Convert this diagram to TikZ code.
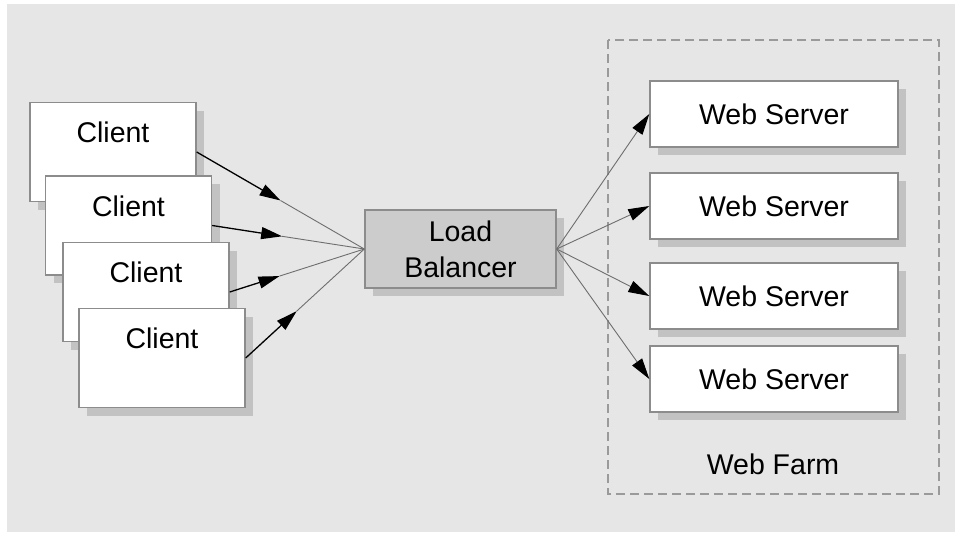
\documentclass[tikz,border=0pt]{standalone}
\usepackage{fontspec}
\setmainfont{Liberation Sans}
\usetikzlibrary{arrows.meta,shadows}

\definecolor{bggray}{HTML}{E6E6E6}
\definecolor{edgegray}{HTML}{8C8C8C}
\definecolor{shadegray}{HTML}{C2C2C2}
\definecolor{lbfill}{HTML}{CCCCCC}
\definecolor{linegray}{HTML}{6E6E6E}
\definecolor{farmgray}{HTML}{9A9A9A}

\tikzset{
  box/.style={draw=edgegray, line width=1.4pt, fill=white, inner sep=0pt,
    drop shadow={shadow xshift=8pt, shadow yshift=-8pt, fill=shadegray, opacity=1}},
  clientbox/.style={box, minimum width=166pt, minimum height=99pt},
  serverbox/.style={box, minimum width=248pt, minimum height=66pt},
  lbbox/.style={box, fill=lbfill, minimum width=191pt, minimum height=78pt, align=center},
  txt/.style={font=\fontsize{28.5}{36}\selectfont},
  head/.style={-{Triangle[length=21pt,width=12pt,color=black]}},
  feed/.style={head, draw=black, line width=1.3pt},
  tail/.style={draw=linegray, line width=0.9pt},
  fan/.style={head, draw=linegray, line width=0.9pt},
}

\begin{document}
\begin{tikzpicture}[x=1pt, y=-1pt]
  \useasboundingbox (0,0) rectangle (957,533);
  \fill[bggray] (7,4) rectangle (955,532);

  % web farm enclosure
  \draw[farmgray, line width=1.3pt, dash pattern=on 9pt off 5pt] (608,40) rectangle (939,494);
  \node[txt] (farm) at (773,464) {Web Farm};

  % stacked clients
  \node[clientbox, label={[txt, anchor=center, yshift=-31pt]north:Client}] (c1) at (113,152) {};
  \node[clientbox, label={[txt, anchor=center, yshift=-31pt]north:Client}] (c2) at (128.5,225.5) {};
  \node[clientbox, label={[txt, anchor=center, yshift=-31pt]north:Client}] (c3) at (146,292) {};
  \node[clientbox, label={[txt, anchor=center, yshift=-31pt]north:Client}] (c4) at (162,358) {};

  % load balancer
  \node[lbbox, txt] (lb) at (460.5,249) {Load\\Balancer};

  % web servers
  \node[serverbox, txt] (w1) at (774,114) {Web Server};
  \node[serverbox, txt] (w2) at (774,206) {Web Server};
  \node[serverbox, txt] (w3) at (774,296) {Web Server};
  \node[serverbox, txt] (w4) at (774,379) {Web Server};

  % client requests into the balancer
  \path (c1.east) -- coordinate[pos=0.50] (m1) (lb.west);
  \path (c2.east) -- coordinate[pos=0.46] (m2) (lb.west);
  \path (c3.east) -- coordinate[pos=0.37] (m3) (lb.west);
  \path (c4.east) -- coordinate[pos=0.43] (m4) (lb.west);
  \foreach \i in {1,...,4} {
    \draw[tail] (m\i) -- (lb.west);
    \draw[feed] (c\i.east) -- (m\i);
  }

  % balancer fans out to the servers
  \foreach \i in {1,...,4} {
    \draw[fan] (lb.east) -- (w\i.west);
  }
\end{tikzpicture}
\end{document}
